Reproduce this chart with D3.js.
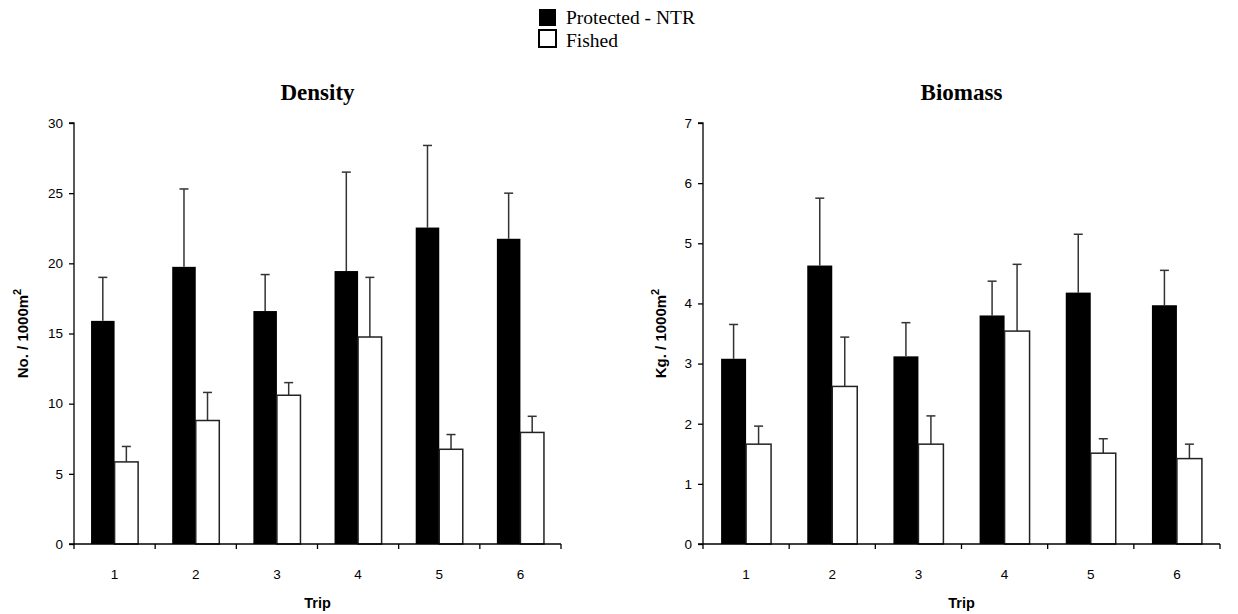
<!DOCTYPE html>
<html><head><meta charset="utf-8">
<script src="https://cdn.jsdelivr.net/npm/d3@7"></script>
<style>body{margin:0;background:#fff}svg{display:block}</style>
</head><body>
<svg id="c" width="1238" height="614"></svg>
<script>
const trips = ["1","2","3","4","5","6"];
const seriesNames = ["Protected - NTR","Fished"];
const densityNTR = [15.9, 19.75, 16.6, 19.45, 22.55, 21.75];
const densityNTRErr = [19.0, 25.3, 19.2, 26.5, 28.4, 25.0];
const densityFished = [5.85, 8.8, 10.6, 14.75, 6.75, 7.95];
const densityFishedErr = [6.95, 10.8, 11.5, 19.0, 7.8, 9.1];
const biomassNTR = [3.08, 4.63, 3.12, 3.80, 4.18, 3.97];
const biomassNTRErr = [3.65, 5.75, 3.68, 4.37, 5.15, 4.55];
const biomassFished = [1.66, 2.62, 1.66, 3.54, 1.51, 1.42];
const biomassFishedErr = [1.96, 3.44, 2.13, 4.65, 1.75, 1.66];
const densityTicks = [0,5,10,15,20,25,30];
const biomassTicks = [0,1,2,3,4,5,6,7];

const svg = d3.select("#c");
const sans = "'Liberation Sans', Arial, sans-serif";
const serif = "'Liberation Serif', 'Times New Roman', serif";

function panel(opts){
  const {x0,x1,y0,y1,ymax,ticks,ntr,ntrErr,fished,fishedErr,title,ylabel,ylabX} = opts;
  const g = svg.append("g");
  const x = d3.scaleBand().domain(trips).range([x0,x1]).padding(0);
  const bw = x.bandwidth();
  const xs = d3.scaleBand().domain(seriesNames).range([bw*0.21, bw*0.79]).padding(0);
  const y = d3.scaleLinear().domain([0,ymax]).range([y0,y1]);

  const rows = trips.map((t,i)=>[
    {t, s:seriesNames[0], v:ntr[i], e:ntrErr[i]},
    {t, s:seriesNames[1], v:fished[i], e:fishedErr[i]}
  ]).flat();

  const eg = g.append("g").attr("stroke","#333").attr("stroke-width",1.5);
  rows.forEach(d=>{
    const cx = x(d.t)+xs(d.s)+xs.bandwidth()/2;
    eg.append("line").attr("x1",cx).attr("x2",cx).attr("y1",y(d.v)).attr("y2",y(d.e));
    eg.append("line").attr("x1",cx-4.5).attr("x2",cx+4.5).attr("y1",y(d.e)).attr("y2",y(d.e));
  });

  g.append("g").selectAll("rect").data(rows).join("rect")
    .attr("x",d=>x(d.t)+xs(d.s))
    .attr("width",xs.bandwidth())
    .attr("y",d=>y(d.v))
    .attr("height",d=>y(0)-y(d.v))
    .attr("fill",d=>d.s===seriesNames[0]?"#000":"#fff")
    .attr("stroke",d=>d.s===seriesNames[0]?"#000":"#222")
    .attr("stroke-width",d=>d.s===seriesNames[0]?0:1.5);

  const ya = d3.axisLeft(y).tickValues(ticks).tickSize(5).tickPadding(6).tickFormat(d3.format("d"));
  const yg = g.append("g").attr("transform",`translate(${x0},0)`).call(ya);
  yg.select(".domain").attr("d",`M${-5},${y1}H0V${y0}`).attr("stroke","#000").attr("stroke-width",1.3);
  yg.selectAll(".tick line").attr("stroke","#000").attr("stroke-width",1.3);
  yg.selectAll("text").attr("font-family",sans).attr("font-size",13.5).attr("fill","#000");

  const xg = g.append("g");
  xg.append("line").attr("x1",x0-5).attr("x2",x1).attr("y1",y0).attr("y2",y0).attr("stroke","#000").attr("stroke-width",1.3);
  const edges = trips.map(t=>x(t)).concat([x1]);
  xg.selectAll("line.tk").data(edges).join("line").attr("class","tk")
    .attr("x1",d=>d).attr("x2",d=>d).attr("y1",y0).attr("y2",y0+5).attr("stroke","#000").attr("stroke-width",1.3);
  xg.selectAll("text").data(trips).join("text")
    .attr("x",d=>x(d)+bw/2).attr("y",y0+35)
    .attr("text-anchor","middle").attr("font-family",sans).attr("font-size",13.5).text(d=>d);

  g.append("text").attr("x",(x0+x1)/2).attr("y",608).attr("text-anchor","middle")
    .attr("font-family",sans).attr("font-weight","bold").attr("font-size",14.5).text("Trip");
  g.append("text").attr("x",(x0+x1)/2).attr("y",100).attr("text-anchor","middle")
    .attr("font-family",serif).attr("font-weight","bold").attr("font-size",23).text(title);

  const yl = g.append("text").attr("transform",`translate(${ylabX},${(y0+y1)/2}) rotate(-90)`)
    .attr("text-anchor","middle").attr("font-family",sans).attr("font-weight","bold").attr("font-size",15);
  yl.append("tspan").text(ylabel);
  yl.append("tspan").attr("dy",-7).attr("font-size",11).text("2");
}

panel({x0:74,x1:561,y0:544,y1:123,ymax:30,ticks:densityTicks,ntr:densityNTR,ntrErr:densityNTRErr,
  fished:densityFished,fishedErr:densityFishedErr,title:"Density",ylabel:"No. / 1000m",ylabX:28});
panel({x0:703,x1:1220,y0:544,y1:123,ymax:7,ticks:biomassTicks,ntr:biomassNTR,ntrErr:biomassNTRErr,
  fished:biomassFished,fishedErr:biomassFishedErr,title:"Biomass",ylabel:"Kg. / 1000m",ylabX:666});

const lg = svg.append("g");
seriesNames.forEach((s,i)=>{
  lg.append("rect").attr("x",539).attr("y",9+i*21).attr("width",17).attr("height",17)
    .attr("fill",i===0?"#000":"#fff").attr("stroke","#000").attr("stroke-width",i===0?0:2);
  lg.append("text").attr("x",566).attr("y",24+i*22.5).attr("font-family",serif).attr("font-size",19.5).text(s);
});
</script>
</body></html>
